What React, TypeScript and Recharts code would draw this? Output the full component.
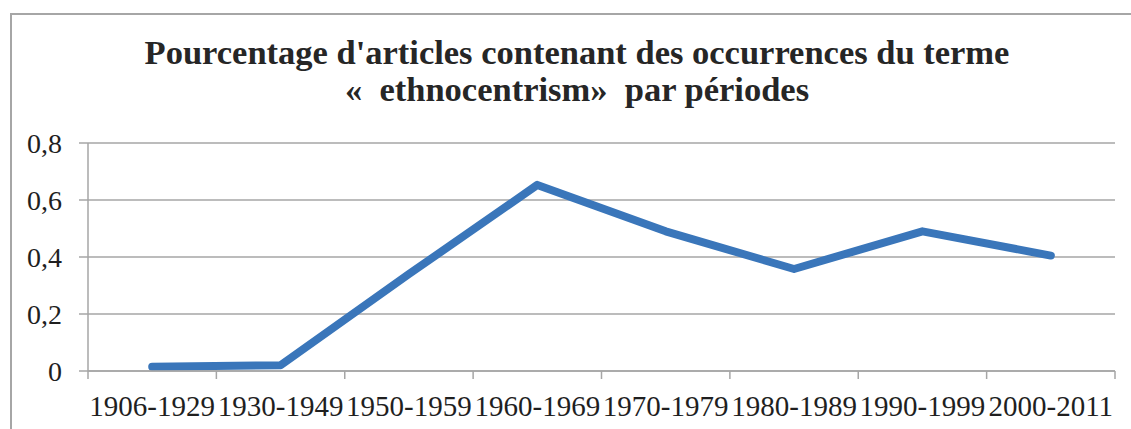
import { LineChart, Line, XAxis, YAxis, CartesianGrid } from "recharts";

const periods = [
  "1906-1929",
  "1930-1949",
  "1950-1959",
  "1960-1969",
  "1970-1979",
  "1980-1989",
  "1990-1999",
  "2000-2011",
];
const percentages = [0.015, 0.02, 0.34, 0.653, 0.49, 0.358, 0.49, 0.405];
const yTicks = [0, 0.2, 0.4, 0.6, 0.8];
const categoryTicks = [0, 1, 2, 3, 4, 5, 6, 7];
const boundaryTicks = [-0.5, 0.5, 1.5, 2.5, 3.5, 4.5, 5.5, 6.5, 7.5];

const titleLine1 = "Pourcentage d'articles contenant des occurrences du terme";
const titleLine2 = "«\u00a0 ethnocentrism»\u00a0 par périodes";

const data = periods.map((period, i) => ({ x: i, period, value: percentages[i] }));

const FONT = "'Liberation Serif', 'Times New Roman', serif";
const GRAY = "#a6a6a6";

export default function App() {
  return (
    <div
      style={{
        position: "absolute",
        left: 0,
        top: 0,
        width: 1131,
        height: 429,
        overflow: "hidden",
        background: "#fff",
      }}
    >
      <div
        style={{
          position: "absolute",
          left: 10,
          top: 13,
          width: 1200,
          height: 500,
          border: `2px solid ${GRAY}`,
        }}
      />
      <div
        style={{
          position: "absolute",
          left: 0,
          top: 34,
          width: 1154,
          textAlign: "center",
          fontFamily: FONT,
          fontWeight: "bold",
          fontSize: 34.5,
          lineHeight: "37px",
          color: "#262626",
          whiteSpace: "pre",
        }}
      >
        <div>{titleLine1}</div>
        <div>{titleLine2}</div>
      </div>
      <div style={{ position: "absolute", left: 0, top: 0 }}>
        <LineChart
          width={1131}
          height={429}
          data={data}
          margin={{ top: 143, right: 16, bottom: 17, left: 28 }}
        >
          <CartesianGrid vertical={false} stroke={GRAY} strokeWidth={1.5} />
          {/* boundary tick marks between categories, Excel style */}
          <XAxis
            xAxisId="bounds"
            type="number"
            dataKey="x"
            domain={[-0.5, 7.5]}
            ticks={boundaryTicks}
            interval={0}
            tickFormatter={() => ""}
            tickSize={8}
            tickMargin={0}
            height={1}
            stroke={GRAY}
            strokeWidth={1.5}
          />
          <XAxis
            xAxisId="labels"
            type="number"
            dataKey="x"
            domain={[-0.5, 7.5]}
            ticks={categoryTicks}
            interval={0}
            axisLine={false}
            tickLine={false}
            tickSize={0}
            tickMargin={23}
            height={40}
            tickFormatter={(v: number) => periods[v]}
            tick={{ fontFamily: FONT, fontSize: 29, fill: "#1f1f1f" }}
          />
          <YAxis
            type="number"
            domain={[0, 0.8]}
            ticks={yTicks}
            interval={0}
            width={60}
            tickSize={9}
            tickMargin={17}
            stroke={GRAY}
            strokeWidth={1.5}
            tickFormatter={(v: number) => String(v).replace(".", ",")}
            tick={{ fontFamily: FONT, fontSize: 28, fill: "#1f1f1f" }}
          />
          <Line
            xAxisId="labels"
            type="linear"
            dataKey="value"
            stroke="#3a76ba"
            strokeWidth={8}
            strokeLinecap="round"
            strokeLinejoin="round"
            dot={false}
            activeDot={false}
            isAnimationActive={false}
          />
        </LineChart>
      </div>
    </div>
  );
}
